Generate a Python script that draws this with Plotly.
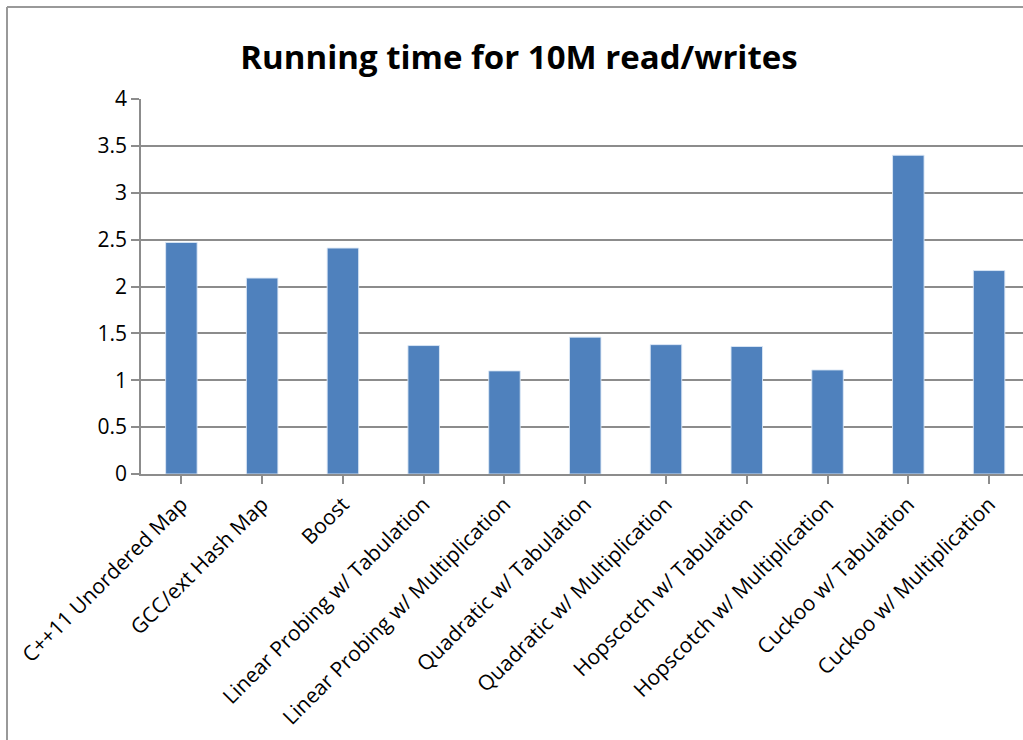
import plotly.graph_objects as go

# Hash table implementations and their running times (seconds)
categories = [
    "C++11 Unordered Map",
    "GCC/ext Hash Map",
    "Boost",
    "Linear Probing w/ Tabulation",
    "Linear Probing w/ Multiplication",
    "Quadratic w/ Tabulation",
    "Quadratic w/ Multiplication",
    "Hopscotch w/ Tabulation",
    "Hopscotch w/ Multiplication",
    "Cuckoo w/ Tabulation",
    "Cuckoo w/ Multiplication",
]
running_time = [2.47, 2.09, 2.41, 1.37, 1.10, 1.46, 1.38, 1.36, 1.11, 3.40, 2.17]
y_ticks = [0, 0.5, 1, 1.5, 2, 2.5, 3, 3.5, 4]
y_tick_text = ["0", "0.5", "1", "1.5", "2", "2.5", "3", "3.5", "4"]

W, H = 1023, 740
L, T, B, R = 141, 99, 266, 0
plot_w = W - L - R
plot_h = H - T - B

BAR = "#4F81BD"
GRID = "#8C8C8C"
FONT = "'Open Sans', Lato, sans-serif"

fig = go.Figure(
    go.Bar(
        x=list(range(len(categories))),
        y=running_time,
        marker=dict(color=BAR, line=dict(color="rgba(220,232,246,0.9)", width=1)),
        width=0.39,
        hoverinfo="skip",
    )
)

def px_x(px):
    return (px - L) / plot_w

def px_y(py):
    return (H - B - py) / plot_h

# Outer chart frame (top and left edges)
fig.add_shape(type="line", xref="paper", yref="paper",
              x0=px_x(7), x1=px_x(W + 5), y0=px_y(7), y1=px_y(7),
              line=dict(color="#999999", width=2))
fig.add_shape(type="line", xref="paper", yref="paper",
              x0=px_x(7), x1=px_x(7), y0=px_y(7), y1=px_y(H + 5),
              line=dict(color="#999999", width=2))

fig.update_layout(
    width=W,
    height=H,
    margin=dict(l=L, r=R, t=T, b=B, pad=0),
    paper_bgcolor="white",
    plot_bgcolor="white",
    showlegend=False,
    bargap=0.61,
    font=dict(family=FONT, color="black"),
    title=dict(
        text="<b>Running time for 10M read/writes</b>",
        x=519 / W, xref="container", xanchor="center",
        y=1 - 57 / H, yref="container", yanchor="middle",
        font=dict(family=FONT, size=33, color="black"),
    ),
    xaxis=dict(
        range=[-0.5, 10.42],
        tickmode="array",
        tickvals=list(range(len(categories))),
        ticktext=categories,
        tickangle=-45,
        tickfont=dict(size=21, color="black"),
        showgrid=False,
        zeroline=False,
        showline=True,
        linecolor=GRID,
        linewidth=1.5,
        ticks="outside",
        tickson="boundaries",
        ticklen=8,
        tickcolor=GRID,
        tickwidth=1.5,
    ),
    yaxis=dict(
        range=[0, 4],
        tickmode="array",
        tickvals=y_ticks,
        ticktext=y_tick_text,
        tickfont=dict(size=21, color="black"),
        showgrid=True,
        gridcolor=GRID,
        gridwidth=1.5,
        zeroline=False,
        showline=True,
        linecolor=GRID,
        linewidth=1.5,
        ticks="outside",
        ticklen=8,
        tickcolor=GRID,
        tickwidth=1.5,
    ),
)

fig.write_html("out.html")
